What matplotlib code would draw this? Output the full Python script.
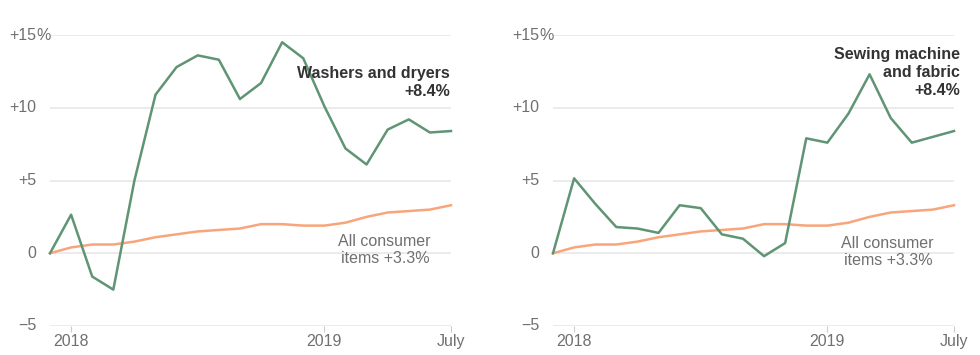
import matplotlib.pyplot as plt
import matplotlib.transforms as mtransforms

plt.rcParams['font.family'] = ['Liberation Sans', 'DejaVu Sans']

# months Dec 2017 .. Jul 2019
months = list(range(20))
xtick_pos = [1, 13, 19]
xtick_labels = ['2018', '2019', 'July']
ytick_pos = [15, 10, 5, 0, -5]
ytick_labels = ['+15', '+10', '+5', '0', '\u22125']

washers = [0, 2.65, -1.6, -2.5, 5.0, 10.9, 12.8, 13.6, 13.3, 10.6, 11.7, 14.5,
           13.4, 10.1, 7.2, 6.1, 8.5, 9.2, 8.3, 8.4]
sewing = [0, 5.15, 3.4, 1.8, 1.7, 1.4, 3.3, 3.1, 1.3, 1.0, -0.2, 0.7,
          7.9, 7.6, 9.6, 12.3, 9.3, 7.6, 8.0, 8.4]
all_items = [0, 0.4, 0.6, 0.6, 0.8, 1.1, 1.3, 1.5, 1.6, 1.7, 2.0, 2.0,
             1.9, 1.9, 2.1, 2.5, 2.8, 2.9, 3.0, 3.3]

green = '#5f9474'
orange = '#f8a57b'
grid_c = '#e6e6e6'
label_c = '#707070'
dark = '#333333'

fig = plt.figure(figsize=(9.8, 3.55), dpi=100)
W, H = 980, 355
bottom = (H - 326) / H
height = (326 - 35) / H

panels = [
    (50, washers, 'Washers and dryers\n+8.4%', 450, 66, 430, 234),
    (553, sewing, 'Sewing machine\nand fabric\n+8.4%', 960, 47, 933, 236),
]

for left_px, series, title, title_x, title_top, note_x, note_top in panels:
    ax = fig.add_axes([left_px / W, bottom, 401 / W, height])
    ax.set_xlim(0, 19)
    ax.set_ylim(-5, 15)
    for s in ax.spines.values():
        s.set_visible(False)
    for y in ytick_pos:
        ax.axhline(y, color=grid_c, lw=1.1, zorder=0)
    ax.set_yticks([])
    ax.set_xticks(xtick_pos)
    ax.set_xticklabels(xtick_labels, fontsize=11.5, color=label_c)
    ax.tick_params(axis='x', length=4, width=0.8, color='#cccccc', pad=1.5)

    # y labels, right aligned, with hanging percent sign on top one
    trans = mtransforms.blended_transform_factory(fig.transFigure, ax.transData)
    for y, lab in zip(ytick_pos, ytick_labels):
        ax.text((left_px - 14) / W, y, lab, transform=trans, ha='right',
                va='center', fontsize=11.5, color=label_c)
    ax.text((left_px - 14) / W, 15, '%', transform=trans, ha='left',
            va='center', fontsize=11.5, color=label_c)

    ax.plot(months, all_items, color=orange, lw=1.8, zorder=3, clip_on=False)
    ax.plot(months, series, color=green, lw=1.8, zorder=4, clip_on=False)

    ax.text(title_x / W, 1 - title_top / H, title, transform=fig.transFigure,
            ha='right', va='top', fontsize=11.5, fontweight='bold', color=dark,
            linespacing=1.25, zorder=5)
    ax.text(note_x / W, 1 - note_top / H, 'All consumer\nitems +3.3%',
            transform=fig.transFigure, ha='right', va='top', fontsize=11.5,
            color=label_c, linespacing=1.2, zorder=5)

fig.savefig('out.png', dpi=100, facecolor='white')
